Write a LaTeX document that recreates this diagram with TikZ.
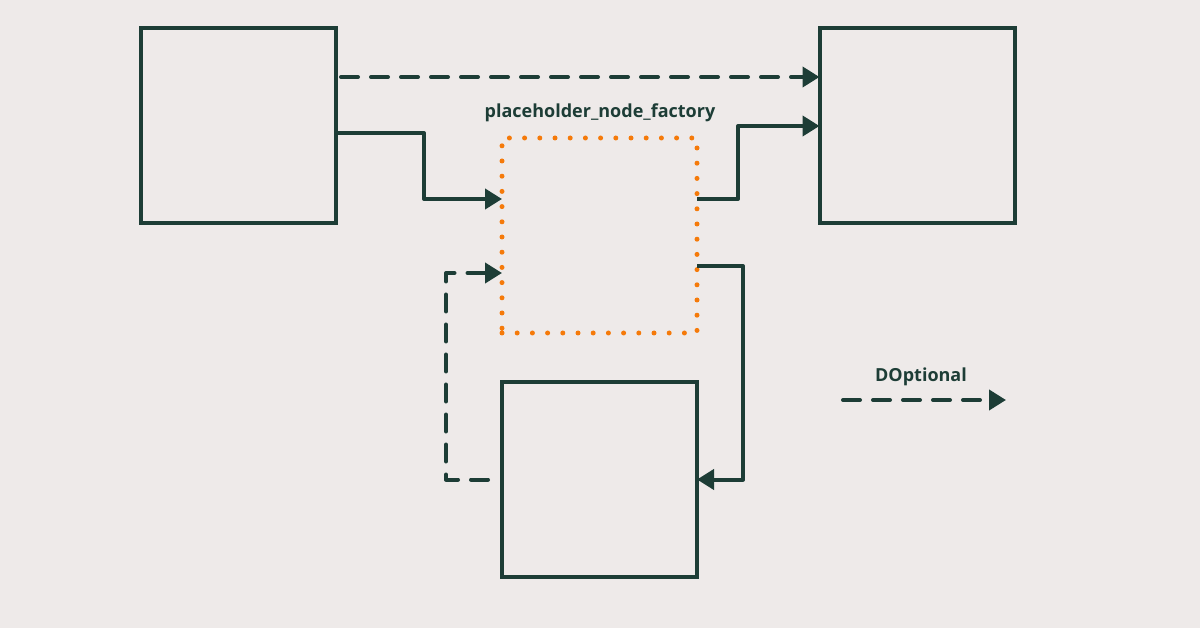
\documentclass[tikz,border=0pt]{standalone}
\usepackage{fontspec}
\setmainfont{Open Sans}
\usetikzlibrary{arrows.meta,calc}
\definecolor{ink}{HTML}{1D3D36}
\definecolor{bg}{HTML}{EEEAE9}
\definecolor{dotc}{HTML}{F57A0A}
\begin{document}
\begin{tikzpicture}[x=1pt,y=-1pt,
  box/.style={draw=ink,line width=4pt,minimum width=195pt,minimum height=195pt,outer sep=0pt,inner sep=0pt},
  dotbox/.style={draw=dotc,line width=5pt,line cap=round,dash pattern=on 0pt off 15.2pt,minimum width=195pt,minimum height=195pt,outer sep=0pt,inner sep=0pt},
  conn/.style={draw=ink,line width=4pt,line join=round,-{Triangle[length=17pt,width=20pt]}},
  dconn/.style={conn,line cap=round,dash pattern=on 17pt off 13pt},
  lbl/.style={text=ink,font=\fontsize{18}{21}\selectfont\bfseries}
]
\fill[bg] (0,0) rectangle (1200,628);
\useasboundingbox (0,0) rectangle (1200,628);
\node[box] (A) at (238.5,125.5) {};
\node[box] (B) at (917,125.5) {};
\node[dotbox] (C) at (599.5,235.5) {};
\node[box] (D) at (599.5,479.5) {};
\node[lbl] (Clbl) at (600,113) {placeholder\_node\_factory};
% connectors
\draw[dconn] ([yshift=48.5pt,xshift=5pt]A.east) -- ([yshift=48.5pt]B.west);
\draw[conn] ([yshift=-7.5pt]A.east) -- ++(88,0) |- ([yshift=36.5pt]C.west);
\draw[conn] ([yshift=36.5pt]C.east) -- ++(41,0) |- ([yshift=-0.5pt]B.west);
\draw[conn] ([yshift=-30.5pt]C.east) -- ++(46,0) |- (D.east);
\draw[dconn] ([xshift=-14pt]D.west) -- ++(-42,0) |- ([yshift=-37.5pt]C.west);
% legend
\coordinate (L1) at (843,400);
\coordinate (L2) at (1006,400);
\draw[dconn] (L1) -- (L2);
\node[lbl] (Llbl) at (921,377) {DOptional};
\end{tikzpicture}
\end{document}
